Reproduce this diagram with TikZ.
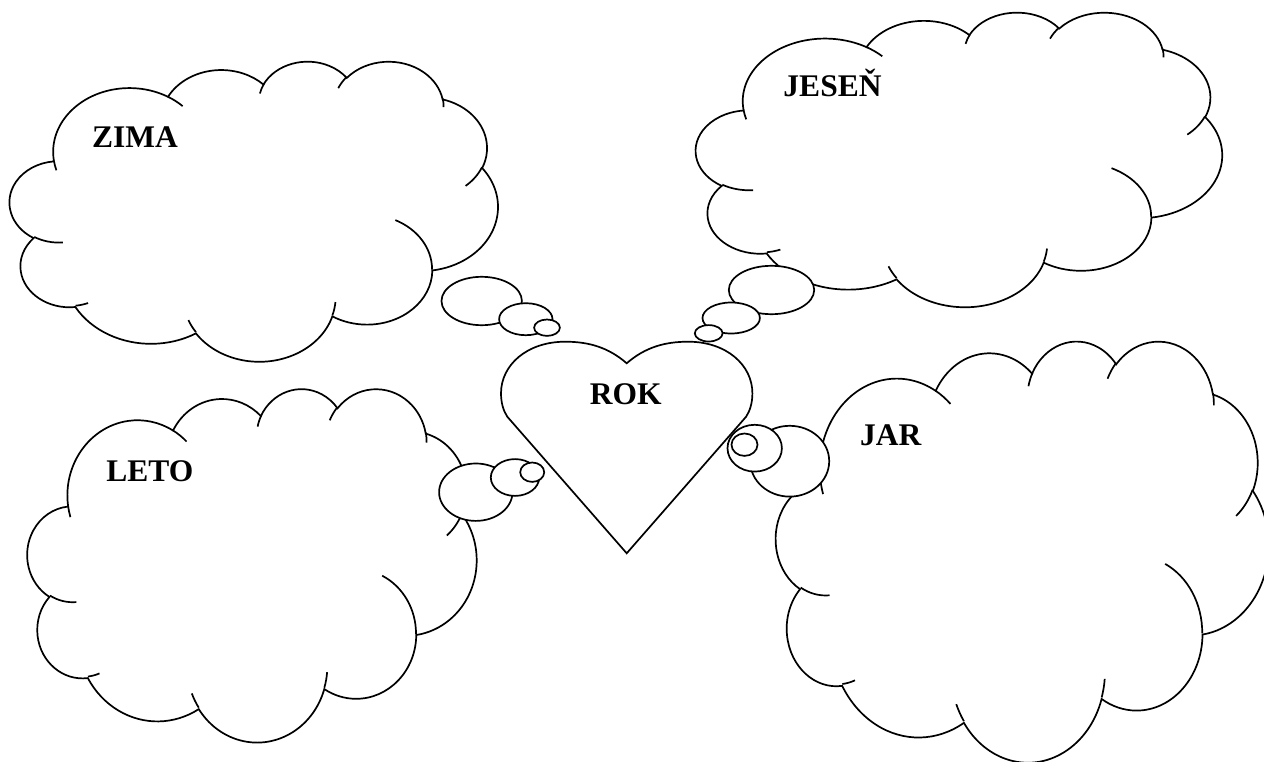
\documentclass[tikz,border=0pt]{standalone}
\usepackage{fontspec}
\setmainfont{Liberation Serif}
\newcommand\cloudarc[4]{%
  \pgfextra{%
    \pgfmathsetmacro\cloudA{atan2((#1)*sin(#3),(#2)*cos(#3))}%
    \pgfmathsetmacro\cloudB{atan2((#1)*sin(#3+#4),(#2)*cos(#3+#4))}%
    \pgfmathsetmacro\cloudB{\cloudB<\cloudA ? \cloudB+360 : \cloudB}%
  }%
  arc[start angle=\cloudA, end angle=\cloudB, x radius=#1, y radius=#2]}
\newcommand\seasoncloud[4]{%
  \begin{scope}[shift={(#1,#2)}, xscale=#3/432, yscale=#4/432]
    \draw[fill=white] (39.00,143.70)
      \cloudarc{67.53}{91.90}{-190.48748}{123.78053}
      \cloudarc{53.33}{72.67}{-144.10238}{89.94523}
      \cloudarc{43.65}{59.45}{-145.80792}{99.72302}
      \cloudarc{48.57}{65.95}{-130.98607}{117.24173}
      \cloudarc{53.33}{72.73}{-78.70888}{109.02692}
      \cloudarc{67.75}{92.20}{-46.26725}{130.26900}
      \cloudarc{57.85}{78.67}{0.62502}{114.03333}
      \cloudarc{67.52}{92.15}{22.45160}{115.17255}
      \cloudarc{77.20}{105.43}{66.24263}{75.71102}
      \cloudarc{43.60}{59.18}{-274.94208}{146.73557}
      \cloudarc{43.45}{59.45}{-246.82850}{152.51885} -- cycle;
    \draw (46.93,261.77) \cloudarc{43.45}{59.45}{86.74200}{26.42950}
      (69.28,348.99) \cloudarc{43.60}{59.18}{73.61047}{11.44747}
      (164.78,390.90) \cloudarc{67.52}{92.15}{137.62415}{14.08110}
      (288.27,347.51) \cloudarc{67.52}{92.15}{6.45327}{15.99835}
      (341.29,229.54) \cloudarc{57.85}{78.67}{-70.29235}{70.91737}
      (417.98,153.54) \cloudarc{53.33}{72.73}{30.31803}{27.75150}
      (383.24,54.26) \cloudarc{48.57}{65.95}{-13.74433}{14.85890}
      (290.78,39.52) \cloudarc{48.57}{65.95}{-149.18145}{18.19537}
      (221.41,47.20) \cloudarc{43.65}{59.45}{-163.49427}{17.68635}
      (140.00,51.92) \cloudarc{67.53}{91.90}{-66.70695}{12.31935}
      (41.27,157.89) \cloudarc{67.53}{91.90}{157.65435}{11.85817};
  \end{scope}}
\begin{document}
\begin{tikzpicture}[
  x=1pt, y=-1pt, line width=1.7pt,
    lbl/.style={font=\fontsize{31.5}{36}\selectfont\bfseries, inner sep=0pt, anchor=base},
    bub/.style={draw, fill=white},
]
\useasboundingbox (0,0) rectangle (1264,762);
\clip (0,0) rectangle (1264,762);
\seasoncloud{9.8}{60.7}{488}{300}
\seasoncloud{696}{11.7}{526}{294.5}
\seasoncloud{27.5}{388}{449}{353.3}
\seasoncloud{776}{340.2}{492.6}{421}
\draw[fill=white] (626.7,363.3) .. controls (608,347) and (588,341.7) .. (565.2,341.7)
  .. controls (527,341.7) and (501,365) .. (501,393.3)
  .. controls (501,403) and (503.5,411) .. (507.3,416.7) -- (626.7,553.3) -- (746.1,416.7)
  .. controls (749.9,411) and (752.4,403) .. (752.4,393.3)
  .. controls (752.4,365) and (726.4,341.7) .. (688.2,341.7)
  .. controls (665.4,341.7) and (645.4,347) .. (626.7,363.3) -- cycle;
\path[bub] (481.7,301) ellipse[x radius=40.2, y radius=24.2];
\path[bub] (525.8,319.2) ellipse[x radius=26.7, y radius=16];
\path[bub] (547,327.7) ellipse[x radius=12.9, y radius=8.2];
\path[bub] (771.5,290) ellipse[x radius=42.7, y radius=24.2];
\path[bub] (731.2,318) ellipse[x radius=28.7, y radius=15.5];
\path[bub] (708.7,333.3) ellipse[x radius=13.9, y radius=8.2];
\path[bub] (475.8,492.2) ellipse[x radius=36.7, y radius=28.7];
\path[bub] (515,477.5) ellipse[x radius=24.2, y radius=18.4];
\path[bub] (532.2,472.2) ellipse[x radius=12, y radius=9.7];
\path[bub] (789.7,461.2) ellipse[x radius=39.5, y radius=35.4];
\path[bub] (754.7,448.2) ellipse[x radius=27.2, y radius=23.4];
\path[bub] (744.5,444.7) ellipse[x radius=13, y radius=11.2];
\node[lbl] (zima) at (135,147.3) {ZIMA};
\node[lbl] (jesen) at (832.5,96.7) {JESEŇ};
\node[lbl] (leto) at (149.8,481.7) {LETO};
\node[lbl] (jar) at (890.8,445) {JAR};
\node[lbl] (rok) at (625.8,404) {ROK};
\end{tikzpicture}
\end{document}
